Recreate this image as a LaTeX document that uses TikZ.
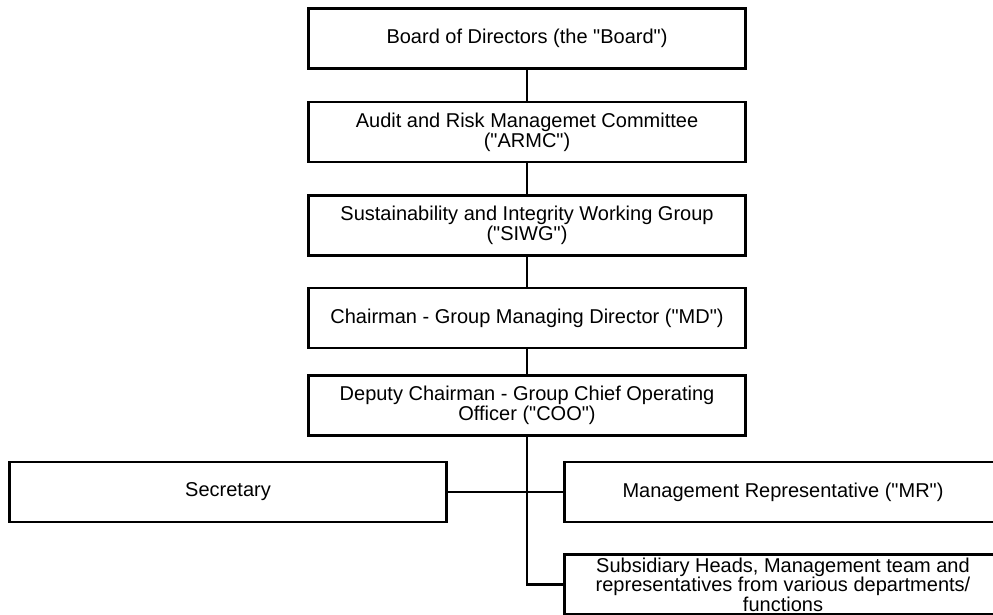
\documentclass[tikz,border=0pt]{standalone}
\usepackage{fontspec}
\setmainfont{Liberation Sans}

\begin{document}
\begin{tikzpicture}[x=1pt, y=-1pt,
  box/.style={draw=black, line width=2.3pt, minimum width=437pt, minimum height=60pt, inner sep=0pt, align=center, font=\fontsize{20}{18}\selectfont},
  link/.style={draw=black, line width=2.3pt}]
\pgfmathsetmacro{\xm}{527} % middle column
\pgfmathsetmacro{\xl}{228} % left column
\pgfmathsetmacro{\xr}{783} % right column (runs off the page)
\def\qq{\textquotedbl} % straight quote

\clip (0,0) rectangle (993,614); % page

\node[box] (board) at (\xm, 38.5) {Board of Directors (the \qq Board\qq)};
\node[box] (armc) at (\xm, 132) {Audit and Risk Managemet Committee\\(\qq ARMC\qq)};
\node[box] (siwg) at (\xm, 225.5) {Sustainability and Integrity Working Group\\(\qq SIWG\qq)};
\node[box] (md) at (\xm, 318) {Chairman - Group Managing Director (\qq MD\qq)};
\node[box] (coo) at (\xm, 405.5) {Deputy Chairman - Group Chief Operating\\Officer (\qq COO\qq)};

\node[box] (sec) at (\xl, 492) {Secretary};
\node[box] (mr) at (\xr, 492) {Management Representative (\qq MR\qq)};
\node[box, font=\fontsize{20}{17}\selectfont] (sub) at (\xr, 584.5) {Subsidiary Heads, Management team and\\representatives from various departments/\\functions};

\draw[link] (board) -- (armc); % chain of command
\draw[link] (armc) -- (siwg);
\draw[link] (siwg) -- (md);
\draw[link] (md) -- (coo);
\draw[link] (sec) -- (mr); % side branch
\draw[link] (coo.south) |- (sub.west);

\end{tikzpicture}
\end{document}
